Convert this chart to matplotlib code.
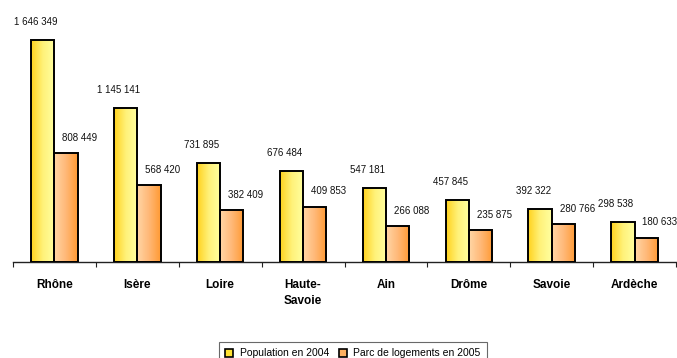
import numpy as np
import matplotlib
matplotlib.use('Agg')
import matplotlib.pyplot as plt
from matplotlib.colors import LinearSegmentedColormap
from matplotlib.patches import Patch

plt.rcParams['font.family'] = ['Liberation Sans', 'DejaVu Sans']

departements = ['Rhône', 'Isère', 'Loire', 'Haute-\nSavoie', 'Ain', 'Drôme', 'Savoie', 'Ardèche']
population_2004 = [1646349, 1145141, 731895, 676484, 547181, 457845, 392322, 298538]
logements_2005 = [808449, 568420, 382409, 409853, 266088, 235875, 280766, 180633]
legend_labels = ['Population en 2004', 'Parc de logements en 2005']


def fmt(v):
    # thousands separated by spaces, French style
    return f"{v:,}".replace(',', ' ')


yellow_cmap = LinearSegmentedColormap.from_list('jaune', ['#FFD21E', '#FFF27A', '#FFFFA0'])
orange_cmap = LinearSegmentedColormap.from_list('orange', ['#FFD6A6', '#FFB877', '#FF9A33'])

W, H = 677, 358
fig = plt.figure(figsize=(W / 100, H / 100), dpi=100)
ax = fig.add_axes([13 / W, (H - 262) / H, 663 / W, 262 / H])

x = np.arange(len(departements))
bw = 0.28
grad = np.linspace(0, 1, 64).reshape(1, -1)

bars_pop = ax.bar(x - bw / 2, population_2004, bw, facecolor='none',
                  edgecolor='black', linewidth=1.4, zorder=3)
bars_log = ax.bar(x + bw / 2, logements_2005, bw, facecolor='none',
                  edgecolor='black', linewidth=1.4, zorder=3)

# gradient fill inside each bar
for bars, cmap in ((bars_pop, yellow_cmap), (bars_log, orange_cmap)):
    for b in bars:
        bx, by = b.get_xy()
        im = ax.imshow(grad, cmap=cmap, aspect='auto', zorder=2,
                       extent=[bx, bx + b.get_width(), by, by + b.get_height()])
        im.set_clip_path(b)

# value labels
for i in range(len(departements)):
    ax.annotate(fmt(population_2004[i]), (x[i] - bw / 2, population_2004[i]),
                xytext=(-5, 13), textcoords='offset points', ha='center',
                va='center', fontsize=7, color='#111111')
    ax.annotate(fmt(logements_2005[i]), (x[i] + bw / 2, logements_2005[i]),
                xytext=(10, 11), textcoords='offset points', ha='center',
                va='center', fontsize=7, color='#111111')

ax.set_xlim(-0.5, len(departements) - 0.5)
ax.set_ylim(0, 1944000)

for side in ('left', 'top', 'right'):
    ax.spines[side].set_visible(False)
ax.spines['bottom'].set_color('#222222')
ax.spines['bottom'].set_linewidth(1)
ax.set_yticks([])

ax.set_xticks(x)
ax.set_xticklabels(departements, fontsize=8.5, fontweight='bold', linespacing=1.5)
ax.tick_params(axis='x', which='major', length=0, pad=12)
ax.set_xticks(np.arange(-0.5, len(departements)), minor=True)
ax.tick_params(axis='x', which='minor', length=3.5, width=0.8, color='#222222')

handles = [Patch(facecolor='#FFE133', edgecolor='black', linewidth=1.2),
           Patch(facecolor='#FFB060', edgecolor='black', linewidth=1.2)]
leg = fig.legend(handles, legend_labels, loc='upper center',
                 bbox_to_anchor=(353 / W, (H - 337) / H), ncol=2, fontsize=7.5,
                 frameon=True, fancybox=False, handlelength=0.75,
                 handleheight=0.75, handletextpad=0.6, columnspacing=1.0,
                 borderpad=0.6)
leg.get_frame().set_edgecolor('#444444')
leg.get_frame().set_linewidth(0.8)

fig.savefig('out.png', dpi=100)
